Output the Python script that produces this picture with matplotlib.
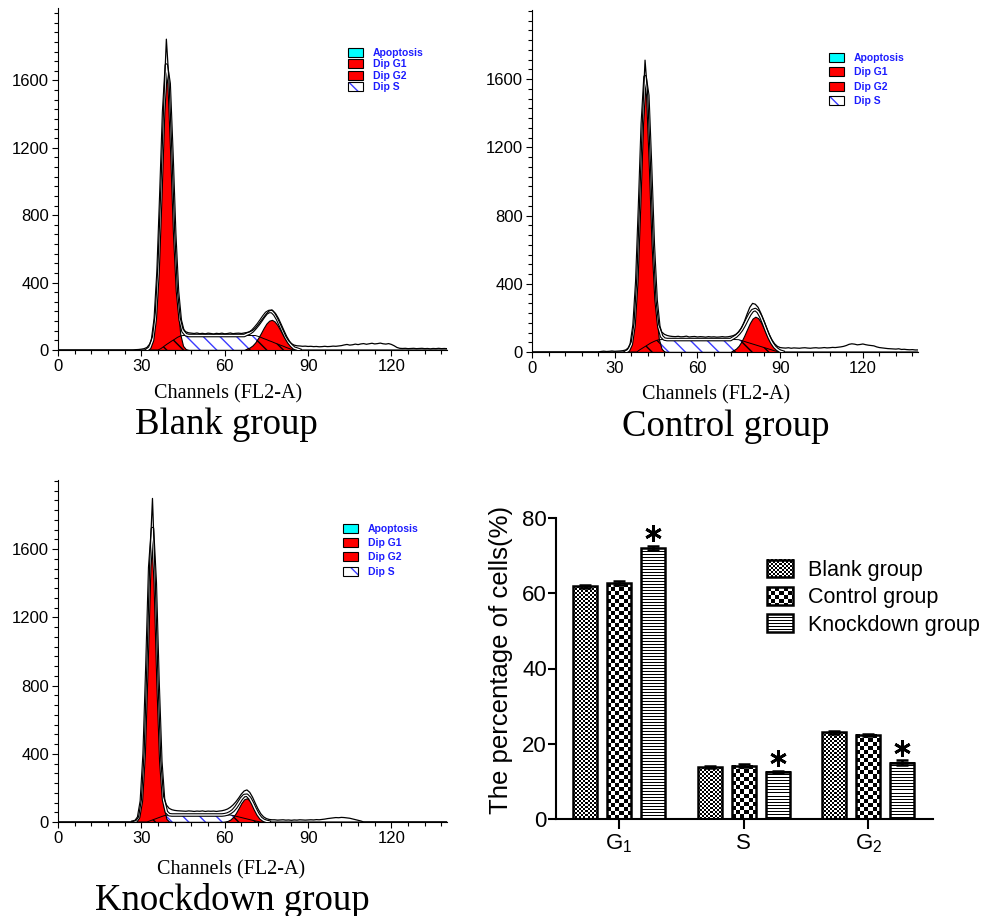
import numpy as np
import matplotlib
matplotlib.use('Agg')
import matplotlib.pyplot as plt
import matplotlib.patheffects as pe
from matplotlib.patches import Patch, Rectangle
from matplotlib.ticker import MultipleLocator, FixedLocator
from matplotlib.legend_handler import HandlerBase, HandlerTuple
from matplotlib.image import BboxImage
from matplotlib.transforms import Bbox, TransformedBbox
from matplotlib.colors import Normalize

plt.rcParams['font.family'] = 'Liberation Sans'
plt.rcParams['mathtext.fontset'] = 'custom'
plt.rcParams['mathtext.rm'] = 'Liberation Sans'
plt.rcParams['mathtext.it'] = 'Liberation Sans:italic'
plt.rcParams['mathtext.bf'] = 'Liberation Sans:bold'
plt.rcParams['hatch.linewidth'] = 1.0

DPI = 100
W, H = 1003, 916

# ---------------- histogram data (counts per channel) ----------------
channels = np.arange(0, 141)

blank_data_start = 26
blank_data = [0, 0, 2, 3, 5, 8, 15, 35, 80, 220, 520, 960, 1440, 1845, 1580,
              1170, 700, 350, 190, 125, 108, 102, 100, 98, 101, 97, 99, 96, 100, 98,
              95, 99, 97, 100, 96, 98, 101, 97, 99, 100, 98, 101, 104, 108, 116,
              130, 150, 172, 195, 215, 232, 238, 220, 190, 155, 118, 82, 55, 38, 29,
              25, 24, 22, 23, 21, 22, 20, 21, 19, 20, 22, 20, 21, 23, 22,
              24, 26, 30, 33, 29, 31, 35, 32, 36, 38, 34, 37, 40, 36, 38,
              41, 37, 35, 38, 33, 25, 15, 10, 9, 10, 8, 9, 10, 8, 9,
              10, 8, 9, 7, 9, 8, 10, 8, 9, 8]
blank_g1_start = 33
blank_g1 = [13, 57, 184, 463, 910, 1392, 1659, 1539, 1112, 626, 274, 94, 25, 5]
blank_s_start = 36
blank_s = [0, 8, 20, 32, 43, 54, 64, 75, 83, 86,
           86, 86, 86, 86, 86, 86, 86, 86, 86, 86, 86, 86, 86,
           86, 86, 86, 86, 86, 86, 86, 86, 86, 86, 86, 86, 86,
           81, 75, 68, 62, 55, 49, 42, 36, 29, 23, 16, 10, 4, 0]
blank_g2_start = 68
blank_g2 = [8, 15, 27, 45, 70, 99, 130, 157, 174, 179, 169, 147, 118, 87, 59, 37, 22, 11, 6, 0]

control_data_start = 22
control_data = [0, 0, 0, 3, 5, 3, 4, 6, 4, 5, 6, 8, 12, 25, 60,
                170, 430, 870, 1340, 1711, 1500, 1080, 620, 300, 160,
                118, 104, 97, 93, 91, 90, 92, 89, 90, 93, 88, 90, 91, 88, 90,
                89, 87, 90, 88, 89, 87, 88, 90, 88, 89, 92, 96, 104, 118, 142,
                178, 222, 262, 285, 280, 262, 228, 188, 146, 105, 72, 48, 33, 26, 24,
                23, 25, 22, 24, 23, 22, 24, 25, 23, 22, 24, 25, 23, 24, 26,
                24, 25, 27, 26, 28, 30, 33, 38, 45, 48, 46, 42, 44, 47, 43,
                40, 38, 36, 30, 26, 24, 22, 20, 19, 18, 17, 19, 15, 16, 14,
                13, 14, 12, 12]
control_g1_start = 35
control_g1 = [10, 45, 156, 413, 842, 1315, 1582, 1462, 1038, 567, 238, 77, 19, 3]
control_s_start = 38
control_s = [0, 12, 22, 32, 42, 52, 60, 67, 72,
             73, 73, 73, 73, 73, 73, 73, 73, 73, 73, 73, 73, 73, 73,
             73, 73, 73, 73, 73, 73, 73, 73, 73, 73, 73, 73, 73, 73,
             72, 67, 62, 57, 52, 47, 42, 37, 32, 27, 22, 17, 12, 7, 3, 0]
control_g2_start = 73
control_g2 = [10, 20, 37, 63, 96, 133, 169, 196, 207, 199, 175, 141, 103, 69, 42, 23, 12, 5, 0]

knock_data_start = 26
knock_data = [0, 3, 8, 30, 130, 410, 930, 1520, 1897, 1420, 830, 360, 150, 100, 80,
              72, 68, 66, 65, 64, 63, 65, 64, 62, 64, 63, 65, 62, 64, 63,
              64, 62, 64, 66, 70, 76, 86, 100, 118, 140, 164, 182, 188, 174, 146,
              110, 76, 48, 30, 20, 15, 13, 13, 11, 12, 13, 11, 12, 10, 12,
              11, 13, 12, 11, 12, 13, 12, 14, 13, 15, 17, 20, 22, 24, 26,
              25, 27, 26, 24, 22, 18, 14, 10, 6, 0]
knock_g1_start = 28
knock_g1 = [4, 27, 123, 399, 916, 1487, 1708, 1388, 798, 325, 93, 19, 2]
knock_s_start = 32
knock_s = [0, 6, 12, 18, 24, 30, 36, 40,
           41, 41, 41, 41, 41, 41, 41, 41, 41, 41, 41, 41,
           41, 41, 41, 41, 41, 41, 41, 41, 41, 41, 41,
           38, 34, 30, 26, 22, 18, 14, 10, 6, 3, 0]
knock_g2_start = 60
knock_g2 = [2, 6, 14, 29, 52, 81, 111, 133, 139, 126, 100, 69, 41, 22, 10, 4, 0]

legend_labels = ['Apoptosis', 'Dip G1', 'Dip G2', 'Dip S']

# ---------------- bar chart data ----------------
phases = ['$\\mathregular{G_1}$', 'S', '$\\mathregular{G_2}$']
groups = ['Blank group', 'Control group', 'Knockdown group']
blank_pct = [61.8, 13.8, 23.0]
control_pct = [62.7, 14.2, 22.4]
knock_pct = [72.0, 12.5, 15.0]
blank_err = [0.5, 0.3, 0.3]
control_err = [0.5, 0.4, 0.3]
knock_err = [0.6, 0.3, 0.6]

BLUE = '#3b3bff'
BLUE_TXT = '#1c1cff'


def place(start, values):
    out = np.zeros(len(channels))
    out[start:start + len(values)] = values
    return out


def fig_rect(left, top, right, bottom):
    return [left / W, 1 - bottom / H, (right - left) / W, (bottom - top) / H]


fig = plt.figure(figsize=(W / DPI, H / DPI), dpi=DPI)


def draw_hist(rect, ytop, data, g1, s, g2, leg_anchor, leg_spacing, xlab_xy, title, title_xy):
    ax = fig.add_axes(rect)
    ax.fill_between(channels, 0, s, facecolor='white', edgecolor=BLUE,
                    hatch='\\\\', linewidth=0, zorder=2)
    for g in (g1, g2):
        ax.fill_between(channels, 0, g, facecolor='red', edgecolor='black',
                        linewidth=0.8, zorder=3)
    ax.fill_between(channels, 0, np.minimum(s, g1 + g2), facecolor='none',
                    edgecolor='black', hatch='\\\\', linewidth=0, zorder=4)
    ax.plot(channels, s, color='black', lw=0.7, zorder=4)

    total = s + g1 + g2
    nz = np.nonzero(total)[0]
    lo, hi = max(nz[0] - 1, 0), min(nz[-1] + 2, len(channels))
    ax.plot(channels[lo:hi], total[lo:hi], color='white', lw=1.0, zorder=5,
            path_effects=[pe.Stroke(linewidth=2.6, foreground='black'), pe.Normal()])
    ax.plot(channels, data, color='black', lw=0.9, zorder=6)

    ax.set_xlim(0, 140)
    ax.set_ylim(0, ytop)
    for sp in ('top', 'right'):
        ax.spines[sp].set_visible(False)
    for sp in ('left', 'bottom'):
        ax.spines[sp].set_linewidth(0.8)
    ax.xaxis.set_major_locator(FixedLocator([0, 30, 60, 90, 120]))
    ax.xaxis.set_minor_locator(MultipleLocator(6))
    ax.yaxis.set_major_locator(FixedLocator([0, 400, 800, 1200, 1600]))
    ax.yaxis.set_minor_locator(MultipleLocator(400 / 7))
    ax.tick_params(which='major', direction='out', length=4.5, width=0.8, labelsize=12, pad=2)
    ax.tick_params(which='minor', direction='out', length=3.2, width=0.8)

    ax.set_xlabel('Channels (FL2-A)', fontfamily='Liberation Serif', fontsize=14.5)
    ax.xaxis.set_label_coords(*xlab_xy)

    handles = [Patch(facecolor='#00ffff', edgecolor='black', linewidth=0.8),
               Patch(facecolor='red', edgecolor='black', linewidth=0.8),
               Patch(facecolor='red', edgecolor='black', linewidth=0.8),
               (Patch(facecolor='white', edgecolor=BLUE, hatch='\\\\', linewidth=0),
                Patch(facecolor='none', edgecolor='black', linewidth=0.8))]
    ax.legend(handles, legend_labels, handler_map={tuple: HandlerTuple(ndivide=1)},
              loc='upper left', bbox_to_anchor=leg_anchor, frameon=False,
              prop={'weight': 'bold', 'size': 7.5}, labelcolor=BLUE_TXT,
              handlelength=1.44, handleheight=0.96, handletextpad=0.96,
              labelspacing=leg_spacing, borderpad=0, borderaxespad=0)

    fig.text(title_xy[0] / W, 1 - title_xy[1] / H, title, fontfamily='Liberation Serif',
             fontsize=26.5, ha='center', va='baseline')
    return ax


draw_hist(fig_rect(58, 8, 447, 350), 2030,
          place(blank_data_start, blank_data), place(blank_g1_start, blank_g1),
          place(blank_s_start, blank_s), place(blank_g2_start, blank_g2),
          (0.746, 0.884), 0.13, (0.437, -0.101), 'Blank group', (226, 434))
draw_hist(fig_rect(532, 10, 918, 352), 2005,
          place(control_data_start, control_data), place(control_g1_start, control_g1),
          place(control_s_start, control_s), place(control_g2_start, control_g2),
          (0.769, 0.874), 0.4, (0.477, -0.097), 'Control group', (726, 436))
draw_hist(fig_rect(58, 480, 447, 822), 2005,
          place(knock_data_start, knock_data), place(knock_g1_start, knock_g1),
          place(knock_s_start, knock_s), place(knock_g2_start, knock_g2),
          (0.733, 0.872), 0.4, (0.445, -0.112), 'Knockdown group', (232, 910))


# ---------------- bar chart ----------------
def texture(kind, h, w):
    i, j = np.indices((max(int(h), 1), max(int(w), 1)))
    if kind == 'fine':
        return ((i // 2 + j // 2) % 2).astype(float)
    if kind == 'check':
        return ((i // 4 + j // 4) % 2).astype(float)
    return (i % 3 != 0).astype(float)


class TextureHandler(HandlerBase):
    def __init__(self, kind):
        super().__init__()
        self.kind = kind

    def create_artists(self, legend, orig_handle, xdescent, ydescent, width, height,
                       fontsize, trans):
        box = TransformedBbox(Bbox.from_bounds(-xdescent, -ydescent, width, height), trans)
        img = BboxImage(box, cmap='gray', norm=Normalize(0, 1), interpolation='nearest')
        img.set_data(texture(self.kind, round(height * DPI / 72), round(width * DPI / 72)))
        edge = Rectangle((-xdescent, -ydescent), width, height, facecolor='none',
                         edgecolor='black', linewidth=1.8, transform=trans)
        return [img, edge]


bar_rect = fig_rect(556, 518, 933, 819)
ax4 = fig.add_axes(bar_rect)
xlim = (-0.506, 2.52)
ylim = (0, 80)
px_x = bar_rect[2] * W / (xlim[1] - xlim[0])
px_y = bar_rect[3] * H / (ylim[1] - ylim[0])

x = np.arange(len(phases))
bar_w = 0.193
pitch = 0.273
kinds = ['fine', 'check', 'stripe']
series = [(blank_pct, blank_err), (control_pct, control_err), (knock_pct, knock_err)]
for k, (vals, errs) in enumerate(series):
    xs = x + (k - 1) * pitch
    for xi, v in zip(xs, vals):
        tex = texture(kinds[k], round(v * px_y), round(bar_w * px_x))
        ax4.imshow(tex, extent=(xi - bar_w / 2, xi + bar_w / 2, 0, v), cmap='gray',
                   vmin=0, vmax=1, interpolation='nearest', aspect='auto', zorder=2)
    ax4.bar(xs, vals, bar_w, facecolor='none', edgecolor='black', linewidth=1.8, zorder=3)
    ax4.errorbar(xs, vals, yerr=errs, fmt='none', ecolor='black', elinewidth=1.8,
                 capsize=4, capthick=1.8, zorder=4)

star_x = x + pitch
star_y = np.array(knock_pct) + np.array(knock_err) + 3.4
ax4.plot(star_x, star_y, linestyle='none', marker=(6, 2, 0), markersize=12,
         markeredgewidth=2.0, color='black', zorder=5)

ax4.set_xlim(*xlim)
ax4.set_ylim(*ylim)
for sp in ('top', 'right'):
    ax4.spines[sp].set_visible(False)
for sp in ('left', 'bottom'):
    ax4.spines[sp].set_linewidth(1.5)
ax4.set_xticks(x)
ax4.set_xticklabels(phases)
ax4.set_yticks([0, 20, 40, 60, 80])
ax4.tick_params(axis='y', direction='out', length=5.5, width=1.5, labelsize=16, pad=1)
ax4.tick_params(axis='x', direction='out', length=7, width=1.5, labelsize=16, pad=3)
ax4.set_ylabel('The percentage of cells(%)', fontsize=18.5)
ax4.yaxis.set_label_coords(-0.114, 0.53)

tex_handles = [Patch(), Patch(), Patch()]
hmap = {h: TextureHandler(kd) for h, kd in zip(tex_handles, kinds)}
ax4.legend(tex_handles, groups, handler_map=hmap, loc='upper left',
           bbox_to_anchor=(0.560, 0.861), frameon=False, fontsize=15.5,
           handlelength=1.21, handleheight=0.88, handletextpad=0.7,
           labelspacing=0.28, borderpad=0, borderaxespad=0)

fig.savefig('out.png', dpi=DPI)
